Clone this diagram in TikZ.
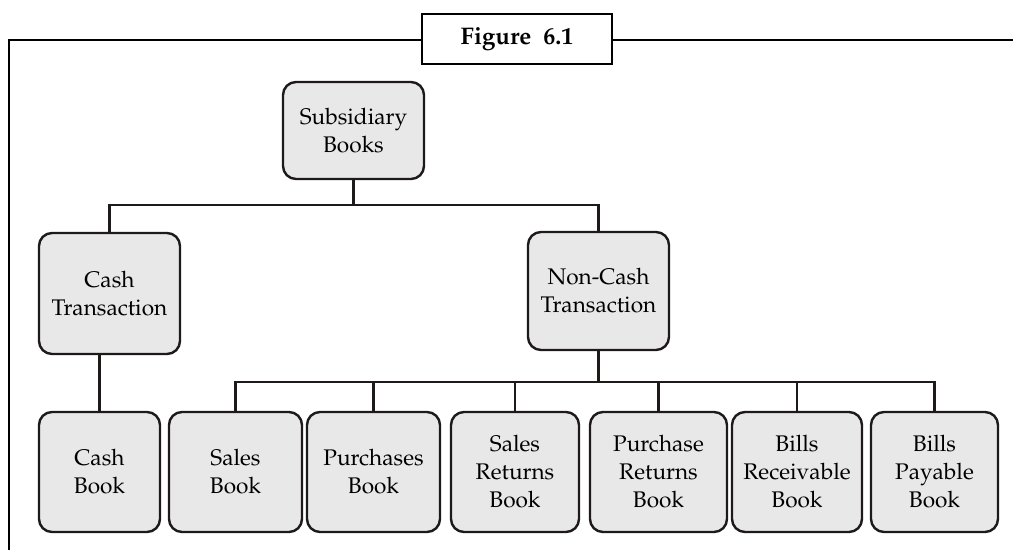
\documentclass[tikz,border=0pt]{standalone}
\usepackage[T1]{fontenc}
\usepackage{mathpazo}
\definecolor{boxfill}{RGB}{232,232,232}
\definecolor{ink}{RGB}{30,26,26}
\tikzset{
  x=0.5pt, y=-0.5pt,
  book/.style={draw=ink, line width=1.2pt, fill=boxfill, rounded corners=6.5pt,
    align=center, inner sep=0pt, font=\fontsize{11.3}{14}\selectfont},
  link/.style={draw=ink, line width=1.1pt},
  frameline/.style={draw=black, line width=1.3pt},
}
\begin{document}
\begin{tikzpicture}
\useasboundingbox (0,0) rectangle (1013,550);
% frame
\coordinate (fb) at (9,550);
\coordinate (fc) at (9,40);
\coordinate (fr) at (1013,40);
\draw[frameline] (fb) -- (fc) -- (fr);
\node[draw=black, line width=1.3pt, fill=white, minimum width=95pt, minimum height=25pt,
  inner sep=0pt, font=\fontsize{12}{14}\selectfont\bfseries] (fig) at (517,39) {Figure\ \ 6.1};
% nodes
\node[book, minimum width=70.5pt, minimum height=48.5pt] (sb) at (353.5,130.5) {Subsidiary\\Books};
\node[book, minimum width=70.5pt, minimum height=60.5pt] (ct) at (109.5,293.5) {Cash\\Transaction};
\node[book, minimum width=70.5pt, minimum height=59pt] (nc) at (598.5,291) {Non-Cash\\Transaction};
\node[book, minimum width=60.5pt, minimum height=60pt] (cb) at (99.5,472) {Cash\\Book};
\node[book, minimum width=66.5pt, minimum height=60pt] (sa) at (235.5,472) {Sales\\Book};
\node[book, minimum width=66.5pt, minimum height=60pt] (pu) at (373.5,472) {Purchases\\Book};
\node[book, minimum width=64pt, minimum height=60pt] (sr) at (515,472) {Sales\\Returns\\Book};
\node[book, minimum width=68.5pt, minimum height=60pt] (pr) at (658.5,472) {Purchase\\Returns\\Book};
\node[book, minimum width=65pt, minimum height=60pt] (br) at (797,472) {Bills\\Receivable\\Book};
\node[book, minimum width=63.5pt, minimum height=60pt] (bp) at (934.5,472) {Bills\\Payable\\Book};
% connectors
\coordinate (bus1) at (0,205);
\coordinate (bus2) at (0,382);
\draw[link] (sb.south) -- (sb.south |- bus1);
\draw[link] (ct.north) -- (ct.north |- bus1) -- (nc.north |- bus1) -- (nc.north);
\draw[link] (cb.north) -- (cb.north |- ct.south);
\draw[link] (nc.south) -- (nc.south |- bus2);
\draw[link] (sa.north) -- (sa.north |- bus2) -- (bp.north |- bus2) -- (bp.north);
\foreach \n in {pu,sr,pr,br}{
  \draw[link] (\n.north) -- (\n.north |- bus2);
}
\end{tikzpicture}
\end{document}
